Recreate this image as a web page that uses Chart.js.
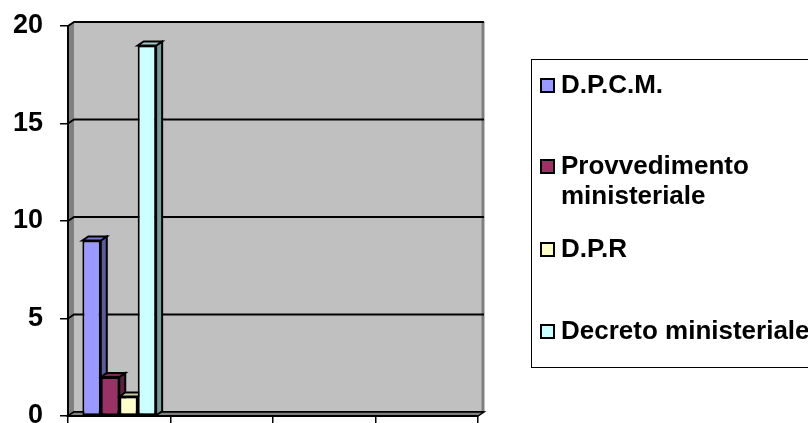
<!DOCTYPE html>
<html>
<head>
<meta charset="utf-8">
<script src="https://cdn.jsdelivr.net/npm/chart.js@4/dist/chart.umd.min.js"></script>
<style>
  body { margin: 0; background: #fff; }
  #wrap { position: relative; width: 808px; height: 423px; overflow: hidden; }
  #legend {
    position: absolute; left: 531px; top: 59px; width: 320px; height: 309px;
    border: 1.5px solid #000; box-sizing: border-box;
    font-family: 'Liberation Sans', Arial, sans-serif; font-weight: bold; font-size: 26px;
    line-height: 30px; color: #000;
  }
  .item { position: absolute; left: 29px; white-space: nowrap; }
  .box {
    position: absolute; left: -21px; top: 9px; width: 15px; height: 15px;
    border: 2px solid #000; box-sizing: border-box;
  }
</style>
</head>
<body>
<div id="wrap">
  <canvas id="myChart" width="808" height="423"></canvas>
  <div id="legend"></div>
</div>
<script>
// categories (no labels shown on the x axis)
const categories = ['', '', '', ''];

const seriesNames = ['D.P.C.M.', 'Provvedimento\nministeriale', 'D.P.R', 'Decreto ministeriale'];
const seriesColors = ['#9999FF', '#993366', '#FFFFCC', '#CCFFFF'];

const dpcm = [9, null, null, null];
const provvedimento = [2, null, null, null];
const dpr = [1, null, null, null];
const decreto = [19, null, null, null];

const yTicks = [0, 5, 10, 15, 20];

const DX = 6;
const DY = 4;

/**
 * Darken a hex colour by a factor
 * @param {string} hex
 * @param {number} f
 * @returns {string}
 */
function shade(hex, f) {
    const n = parseInt(hex.slice(1), 16);
    const r = Math.round(((n >> 16) & 255) * f);
    const g = Math.round(((n >> 8) & 255) * f);
    const b = Math.round((n & 255) * f);
    return `rgb(${r},${g},${b})`;
}

function poly(ctx, pts, fill, stroke, lw) {
    ctx.beginPath();
    ctx.moveTo(pts[0][0], pts[0][1]);
    for (let i = 1; i < pts.length; i++) ctx.lineTo(pts[i][0], pts[i][1]);
    ctx.closePath();
    if (fill) { ctx.fillStyle = fill; ctx.fill(); }
    if (stroke) { ctx.strokeStyle = stroke; ctx.lineWidth = lw; ctx.stroke(); }
}

// walls, floor and back gridlines of the 3D look
const wallsPlugin = {
    id: 'walls',
    beforeDraw(chart) {
        const { ctx, chartArea: a, scales: { y } } = chart;
        ctx.save();
        // back wall
        ctx.fillStyle = '#C0C0C0';
        ctx.fillRect(a.left + DX, a.top - DY, a.right - a.left, a.bottom - a.top);
        // left side wall
        poly(ctx, [[a.left, a.top], [a.left + DX, a.top - DY], [a.left + DX, a.bottom - DY], [a.left, a.bottom]], '#808080', null, 0);
        // right edge of back wall
        ctx.strokeStyle = '#808080';
        ctx.lineWidth = 3;
        ctx.beginPath();
        ctx.moveTo(a.right + DX - 1, a.top - DY);
        ctx.lineTo(a.right + DX - 1, a.bottom - DY);
        ctx.stroke();
        // gridlines on the back wall
        ctx.strokeStyle = '#000';
        ctx.lineWidth = 2;
        for (const v of yTicks) {
            const py = y.getPixelForValue(v);
            ctx.beginPath();
            ctx.moveTo(a.left, py);
            ctx.lineTo(a.left + DX, py - DY);
            ctx.lineTo(a.right + DX, py - DY);
            ctx.stroke();
        }
        // floor
        poly(ctx, [[a.left, a.bottom], [a.left + DX, a.bottom - DY], [a.right + DX, a.bottom - DY], [a.right, a.bottom]], '#808080', '#000', 1.5);
        ctx.restore();
    },
    beforeDatasetsDraw(chart) {
        const { ctx } = chart;
        ctx.save();
        chart.data.datasets.forEach((ds, i) => {
            const meta = chart.getDatasetMeta(i);
            meta.data.forEach((el, j) => {
                if (ds.data[j] == null) return;
                const { x, y, base, width } = el.getProps(['x', 'y', 'base', 'width'], true);
                const x1 = x - width / 2;
                const x2 = x + width / 2;
                poly(ctx, [[x2, y], [x2 + DX, y - DY], [x2 + DX, base - DY], [x2, base]], shade(seriesColors[i], 0.6), '#000', 2);
                poly(ctx, [[x1, y], [x1 + DX, y - DY], [x2 + DX, y - DY], [x2, y]], shade(seriesColors[i], 0.8), '#000', 2);
            });
        });
        ctx.restore();
    }
};

const seriesData = [dpcm, provvedimento, dpr, decreto];

function renderChart() {
    const ctx = document.getElementById('myChart');
    new Chart(ctx, {
        type: 'bar',
        data: {
            labels: categories,
            datasets: seriesData.map((d, i) => ({
                label: seriesNames[i],
                data: d,
                backgroundColor: seriesColors[i],
                borderColor: '#000',
                borderWidth: 2,
                borderSkipped: false,
                categoryPercentage: 0.72,
                barPercentage: 1.0
            }))
        },
        options: {
            responsive: false,
            animation: false,
            layout: { padding: { top: 26, right: 330, bottom: 0, left: 0 } },
            plugins: { legend: { display: false }, tooltip: { enabled: false } },
            scales: {
                x: {
                    grid: { display: true, offset: true, drawOnChartArea: false, tickLength: 7, color: '#000', lineWidth: 1.5 },
                    border: { display: true, color: '#000', width: 2 },
                    ticks: { display: false },
                    afterFit(scale) { scale.height = 7; }
                },
                y: {
                    min: 0,
                    max: 20,
                    ticks: {
                        stepSize: 5,
                        padding: 17,
                        color: '#000',
                        font: { family: "'Liberation Sans', Arial, sans-serif", size: 27, weight: 'bold' }
                    },
                    grid: { display: true, drawOnChartArea: false, tickLength: 8, color: '#000', lineWidth: 1.5 },
                    border: { display: true, color: '#000', width: 2 },
                    afterFit(scale) {
                        scale.width = 68;
                        scale.paddingTop = 0;
                        scale.paddingBottom = 0;
                    }
                }
            }
        },
        plugins: [wallsPlugin]
    });
}

// html legend built from the series names
function renderLegend() {
    const legend = document.getElementById('legend');
    const tops = [9, 90, 173, 255];
    seriesNames.forEach((name, i) => {
        const item = document.createElement('div');
        item.className = 'item';
        item.style.top = tops[i] + 'px';
        const box = document.createElement('span');
        box.className = 'box';
        box.style.background = seriesColors[i];
        item.appendChild(box);
        name.split('\n').forEach((line, k) => {
            if (k > 0) item.appendChild(document.createElement('br'));
            item.appendChild(document.createTextNode(line));
        });
        legend.appendChild(item);
    });
}

renderChart();
renderLegend();
</script>
</body>
</html>
